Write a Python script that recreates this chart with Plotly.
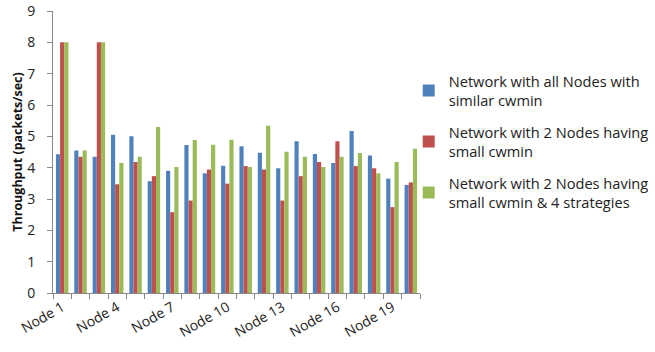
import plotly.graph_objects as go

# Throughput per node for the three network configurations
nodes = [f"Node {i}" for i in range(1, 21)]
labeled_nodes = ["Node 1", "Node 4", "Node 7", "Node 10", "Node 13", "Node 16", "Node 19"]

similar_cwmin = [4.43, 4.55, 4.35, 5.05, 5.0, 3.57, 3.9, 4.72, 3.82, 4.06,
                 4.68, 4.48, 3.98, 4.84, 4.44, 4.15, 5.17, 4.39, 3.65, 3.45]
two_small_cwmin = [8.0, 4.35, 8.0, 3.47, 4.18, 3.73, 2.58, 2.95, 3.94, 3.49,
                   4.05, 3.94, 2.95, 3.73, 4.18, 4.84, 4.05, 3.98, 2.74, 3.53]
two_small_cwmin_4_strategies = [8.0, 4.55, 8.0, 4.15, 4.35, 5.3, 4.02, 4.88, 4.73, 4.89,
                                4.02, 5.34, 4.51, 4.35, 4.02, 4.35, 4.47, 3.82, 4.18, 4.6]

series_names = [
    "Network with all Nodes with<br>similar cwmin",
    "Network with 2 Nodes having<br>small cwmin",
    "Network with 2 Nodes having<br>small cwmin & 4 strategies",
]
series_values = [similar_cwmin, two_small_cwmin, two_small_cwmin_4_strategies]
series_colors = ["#4F81BD", "#C0504D", "#9BBB59"]

font_family = "Open Sans, Liberation Sans, sans-serif"

fig = go.Figure()
for i, (name, vals, color) in enumerate(zip(series_names, series_values, series_colors)):
    fig.add_trace(go.Bar(x=nodes, y=vals, name=name, marker_color=color,
                         marker_line_width=0, legendgroup=f"g{i}"))

tick_text = [n if n in labeled_nodes else "" for n in nodes]

fig.update_layout(
    width=655, height=352,
    margin=dict(l=53, r=235, t=11, b=59, autoexpand=False),
    paper_bgcolor="white", plot_bgcolor="white",
    barmode="group", bargap=0.32, bargroupgap=0,
    font=dict(family=font_family, color="#222222"),
    legend=dict(xref="container", yref="container", x=0.624, y=0.815,
                xanchor="left", yanchor="top", bgcolor="rgba(0,0,0,0)",
                font=dict(size=14.6, color="#222222"),
                tracegroupgap=10, itemwidth=30, traceorder="grouped"),
    xaxis=dict(type="category", tickmode="array", tickvals=nodes, ticktext=tick_text,
               tickangle=-30, tickson="boundaries", ticks="outside", ticklen=5,
               tickcolor="#888888", showline=True, linecolor="#888888",
               linewidth=1, showgrid=False, tickfont=dict(size=14, color="#222222")),
    yaxis=dict(range=[0, 9], dtick=1, ticks="outside", ticklen=5, tickcolor="#888888",
               showline=True, linecolor="#888888", linewidth=1, showgrid=False,
               zeroline=False, tickfont=dict(size=14, color="#222222"),
               ticklabelstandoff=9,
               title=dict(text="<b>Throughput (packets/sec)</b>",
                          font=dict(size=12.5, color="#111111"), standoff=1)),
)

fig.write_html("out.html")
